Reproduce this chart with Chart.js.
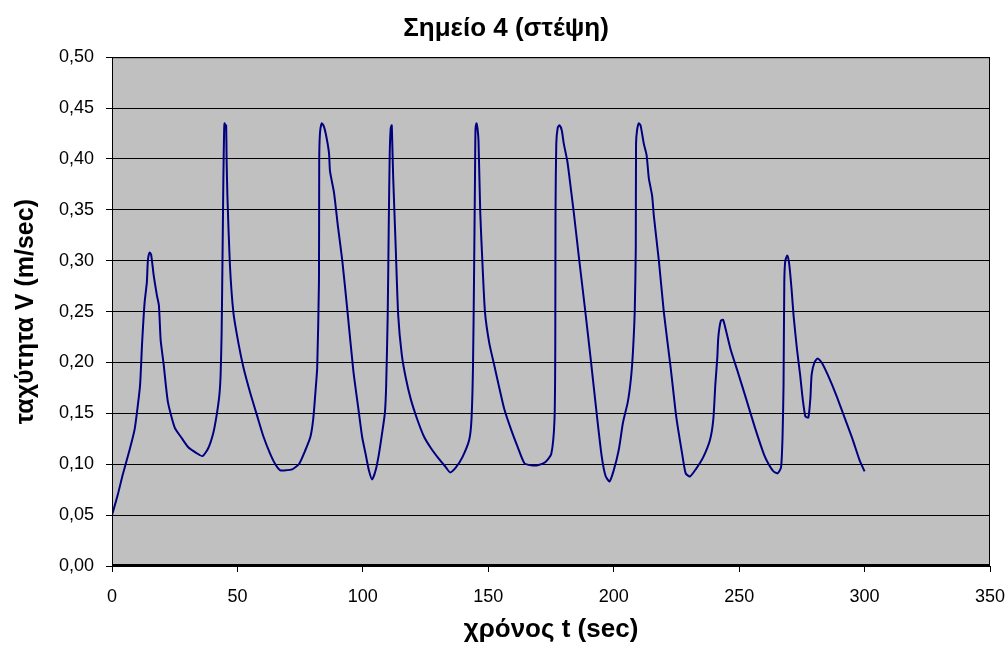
<!DOCTYPE html>
<html>
<head>
<meta charset="utf-8">
<script src="https://cdn.jsdelivr.net/npm/chart.js@4/dist/chart.umd.min.js"></script>
<style>
  html, body { margin: 0; padding: 0; background: #fff; }
  #wrap { width: 1008px; height: 650px; }
</style>
</head>
<body>
<div id="wrap"><canvas id="speedChart" width="1008" height="650"></canvas></div>
<script>
// time (sec) and speed (m/sec)
const timeSec = [
  0, 2.3, 4.3, 7, 9, 10.3, 11.2, 12, 13, 13.9, 14.3, 15, 15.6, 16.6, 17.9, 18.7, 19.4, 20.6, 22.3, 25,
  27.7, 30.3, 33.7, 36.1, 38.4, 40.4, 41.7, 42.8, 43.3, 43.7, 44.1, 44.4, 44.7, 44.9, 45.2, 45.5, 45.7,
  46, 47, 48.4, 50.4, 52.4, 55, 57.8, 60.4, 63.1, 65.1, 67.1, 69.1, 71.8, 74.5, 77.1, 79.1, 80.2, 81.1,
  81.8, 82.5, 82.6, 82.9, 83.6, 84.3, 85.2, 86.5, 86.9, 88.5, 90.1, 91.8, 93.8, 96.2, 98.4, 99.7,
  101.1, 102.4, 103.7, 105.1, 106.4, 107.7, 108.8, 109.3, 109.9, 110.3, 110.7, 111.1, 111.5, 111.7,
  112.1, 113.1, 114.1, 115.5, 117.1, 119.1, 121.7, 124.4, 127.1, 130.4, 133.1, 134.8, 137.1, 139.7,
  142.4, 143.3, 143.9, 144.3, 144.7, 144.9, 145.3, 145.7, 146.1, 146.8, 147.7, 148.7, 150.4, 152.4,
  154.4, 156.4, 159.1, 161.7, 164.4, 167.1, 169.7, 172.7, 175.1, 176.4, 176.7, 176.8, 177.1, 177.7,
  178.4, 179.3, 180.1, 181.5, 182.4, 184.1, 186, 188.4, 190.8, 193.2, 195.2, 196.7, 198.3, 200,
  202, 203.7, 205.6, 206.9, 207.7, 208.4, 208.8, 208.9, 209.3, 210, 210.7, 212, 213.1, 214, 215.3,
  216, 218, 220, 222.7, 224.7, 225.7, 227.3, 228.7, 230.4, 232.7, 235.7, 238.4, 239.7, 240.5, 241.3,
  241.7, 242.7, 243.6, 244.7, 246.7, 249.3, 252.7, 256.3, 260, 262, 263.7, 265.3, 266.7, 267.3, 267.7,
  268, 268.4, 269.2, 270, 270.9, 271.7, 273.1, 274.3, 275.3, 276.4, 277.6, 278.4, 278.9, 280, 281.3,
  282.9, 285.3, 288.7, 292, 295.3, 298, 300
];
const speedMs = [
  0.050, 0.070, 0.090, 0.114, 0.134, 0.158, 0.178, 0.219, 0.259, 0.279, 0.300, 0.308, 0.306, 0.286, 0.266, 0.256, 0.222, 0.198, 0.161, 0.136,
  0.126, 0.117, 0.111, 0.108, 0.116, 0.131, 0.148, 0.168, 0.188, 0.229, 0.313, 0.381, 0.428, 0.435, 0.430, 0.433, 0.398,
  0.364, 0.296, 0.249, 0.219, 0.195, 0.171, 0.148, 0.127, 0.110, 0.100, 0.094, 0.094, 0.095, 0.100, 0.114, 0.127, 0.144, 0.171,
  0.195, 0.279, 0.398, 0.425, 0.435, 0.433, 0.425, 0.406, 0.388, 0.367, 0.333, 0.300, 0.252, 0.192, 0.151, 0.127,
  0.110, 0.094, 0.085, 0.094, 0.110, 0.131, 0.151, 0.178, 0.246, 0.330, 0.404, 0.430, 0.433, 0.418,
  0.381, 0.313, 0.246, 0.208, 0.185, 0.164, 0.144, 0.127, 0.116, 0.105, 0.097, 0.092, 0.097, 0.107,
  0.124, 0.144, 0.195, 0.279, 0.381, 0.428, 0.435, 0.430, 0.418, 0.347, 0.296, 0.249, 0.219, 0.197,
  0.175, 0.154, 0.134, 0.117, 0.101, 0.099, 0.099, 0.102, 0.110, 0.144, 0.212, 0.347, 0.415, 0.431,
  0.433, 0.428, 0.415, 0.398, 0.381, 0.347, 0.306, 0.256, 0.204, 0.150, 0.108, 0.089, 0.083, 0.094,
  0.114, 0.141, 0.161, 0.185, 0.212, 0.252, 0.313, 0.415, 0.428, 0.435, 0.433, 0.415, 0.404, 0.381, 0.364,
  0.344, 0.300, 0.249, 0.195, 0.151, 0.134, 0.110, 0.091, 0.088, 0.095, 0.107, 0.124, 0.144, 0.178, 0.205,
  0.225, 0.241, 0.242, 0.232, 0.212, 0.192, 0.165, 0.136, 0.109, 0.099, 0.093, 0.091, 0.097, 0.127, 0.178,
  0.279, 0.300, 0.305, 0.296, 0.272, 0.246, 0.212, 0.188, 0.165, 0.147, 0.146, 0.165, 0.188, 0.200, 0.204,
  0.200, 0.188, 0.168, 0.146, 0.124, 0.104, 0.093
];

const chartTitle = "Σημείο 4 (στέψη)";
const xTitle = "χρόνος t (sec)";
const yTitle = "ταχύτητα V (m/sec)";

const points = timeSec.map((t, i) => ({ x: t, y: speedMs[i] }));

// gray plot background + frame, like the old spreadsheet chart
const plotFrame = {
  id: "plotFrame",
  beforeDraw(chart) {
    const a = chart.chartArea;
    const c = chart.ctx;
    c.save();
    c.fillStyle = "#C0C0C0";
    c.fillRect(a.left, a.top, a.right - a.left, a.bottom - a.top);
    c.restore();
  },
  afterDatasetsDraw(chart) {
    const a = chart.chartArea;
    const c = chart.ctx;
    c.save();
    c.strokeStyle = "#000";
    c.lineWidth = 1;
    c.strokeRect(a.left + 0.5, a.top + 0.5, a.right - a.left - 1, a.bottom - a.top - 1);
    c.lineWidth = 2;
    c.beginPath();
    c.moveTo(a.left, a.bottom - 1);
    c.lineTo(a.right, a.bottom - 1);
    c.stroke();
    c.restore();
  }
};

const font = "'Liberation Sans', Arial, sans-serif";

new Chart(document.getElementById("speedChart"), {
  type: "scatter",
  data: {
    datasets: [{
      data: points,
      showLine: true,
      borderColor: "#000080",
      borderWidth: 2,
      pointRadius: 0,
      tension: 0.2,
      fill: false
    }]
  },
  plugins: [plotFrame],
  options: {
    responsive: false,
    animation: false,
    // left padding also nudges the centred title to the right
    layout: { padding: { left: 22, right: 18, top: 0, bottom: 0 } },
    plugins: {
      legend: { display: false },
      tooltip: { enabled: false },
      title: {
        display: true,
        text: chartTitle,
        color: "#000",
        font: { family: font, size: 26, weight: "bold" },
        padding: { top: 13, bottom: 13 }
      }
    },
    scales: {
      x: {
        type: "linear",
        min: 0,
        max: 350,
        ticks: {
          stepSize: 50,
          color: "#000",
          font: { family: font, size: 18 },
          padding: 14,
          maxRotation: 0
        },
        grid: { drawOnChartArea: false, drawTicks: true, tickLength: 6, color: "#000" },
        border: { display: false },
        title: {
          display: true,
          text: xTitle,
          color: "#000",
          font: { family: font, size: 26, weight: "bold" },
          padding: { top: 0, bottom: 5 }
        },
        afterFit(scale) {
          scale.height = 84;
          scale.paddingLeft = 0;
          scale.paddingRight = 0;
        }
      },
      y: {
        min: 0,
        max: 0.5,
        ticks: {
          stepSize: 0.05,
          color: "#000",
          font: { family: font, size: 18 },
          padding: 12,
          callback: v => v.toFixed(2).replace(".", ",")
        },
        grid: { drawOnChartArea: true, drawTicks: true, tickLength: 6, color: "#000", lineWidth: 1 },
        border: { display: false },
        title: {
          display: true,
          text: yTitle,
          color: "#000",
          font: { family: font, size: 25, weight: "bold" },
          padding: { top: -11, bottom: 0 }
        },
        afterFit(scale) { scale.width = 90; }
      }
    }
  }
});
</script>
</body>
</html>
